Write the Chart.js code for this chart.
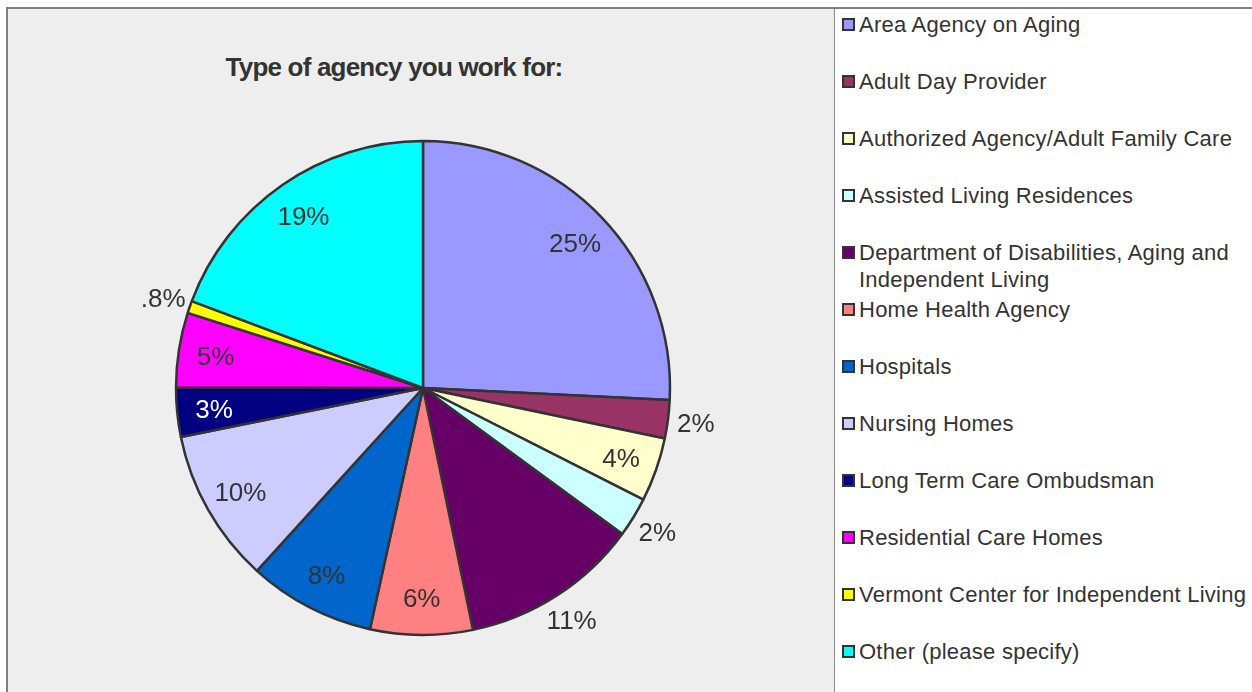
<!DOCTYPE html>
<html><head><meta charset="utf-8">
<script src="https://cdn.jsdelivr.net/npm/chart.js@4/dist/chart.umd.min.js"></script>
<style>
html,body{margin:0;padding:0;background:#fff;width:1252px;height:692px;overflow:hidden;font-family:"Liberation Sans",Arial,sans-serif;}
#frame{position:absolute;left:6px;top:7px;width:1246px;height:685px;border-top:2px solid #7f7f7f;border-left:2px solid #7f7f7f;box-sizing:border-box;}
#plot{position:absolute;left:8px;top:9px;width:826px;height:683px;background:#eeeeee;}
#sep{position:absolute;left:834px;top:9px;width:1px;height:683px;background:#8a8a8a;}
#title{position:absolute;left:0;top:53px;width:788px;text-align:center;font-weight:bold;font-size:26px;line-height:28px;letter-spacing:-0.8px;color:#333;}
#cv{position:absolute;left:8px;top:9px;}
.li{position:absolute;left:842px;font-size:22px;line-height:27px;letter-spacing:0.25px;color:#333;white-space:nowrap;}
.li .sw{position:absolute;left:0;top:7px;width:9px;height:9px;border:2px solid #333;}
.li .tx{position:absolute;left:17px;top:0;}
</style></head>
<body>
<div id="frame"></div>
<div id="plot"></div>
<div id="sep"></div>
<div id="title">Type of agency you work for:</div>
<canvas id="cv" width="826" height="683"></canvas>
<div id="legend"></div>
<script>
const categories = [
  "Area Agency on Aging",
  "Adult Day Provider",
  "Authorized Agency/Adult Family Care",
  "Assisted Living Residences",
  ["Department of Disabilities, Aging and", "Independent Living"],
  "Home Health Agency",
  "Hospitals",
  "Nursing Homes",
  "Long Term Care Ombudsman",
  "Residential Care Homes",
  "Vermont Center for Independent Living",
  "Other (please specify)"
];
const values = [25.8, 2.5, 4.2, 2.6, 11.7, 6.7, 8.3, 10.1, 3.2, 4.9, 0.8, 19.3];
const pctLabels = ["25%", "2%", "4%", "2%", "11%", "6%", "8%", "10%", "3%", "5%", ".8%", "19%"];
const colors = ["#9999FF", "#993366", "#FFFFCC", "#CCFFFF", "#660066", "#FF8080",
                "#0066CC", "#CCCCFF", "#000080", "#FF00FF", "#FFFF00", "#00FFFF"];

const outside = [false, true, false, true, true, false, false, false, false, false, true, false];
const labelColor = ["#333", "#333", "#333", "#333", "#333", "#333", "#333", "#333", "#fff", "#333", "#333", "#333"];

// legend
const lg = document.getElementById('legend');
categories.forEach((c, i) => {
  const d = document.createElement('div');
  d.className = 'li';
  d.style.top = (11 + 57 * i) + 'px';
  const sw = document.createElement('div');
  sw.className = 'sw';
  sw.style.background = colors[i];
  const tx = document.createElement('div');
  tx.className = 'tx';
  tx.innerHTML = Array.isArray(c) ? c.join('<br>') : c;
  d.appendChild(sw); d.appendChild(tx);
  lg.appendChild(d);
});

const sliceLabels = {
  id: 'sliceLabels',
  afterDatasetsDraw(chart) {
    const ctx = chart.ctx;
    const meta = chart.getDatasetMeta(0);
    ctx.save();
    ctx.font = '26px "Liberation Sans", Arial, sans-serif';
    ctx.textAlign = 'center';
    ctx.textBaseline = 'middle';
    meta.data.forEach((arc, i) => {
      const p = arc.getProps(['x', 'y', 'startAngle', 'endAngle', 'outerRadius'], true);
      const mid = (p.startAngle + p.endAngle) / 2;
      const r = outside[i] ? p.outerRadius + 28 : p.outerRadius * 0.85;
      ctx.fillStyle = labelColor[i];
      ctx.fillText(pctLabels[i], p.x + Math.cos(mid) * r, p.y + Math.sin(mid) * r + 2);
    });
    ctx.restore();
  }
};

new Chart(document.getElementById('cv'), {
  type: 'pie',
  data: {
    labels: categories.map(c => Array.isArray(c) ? c.join(' ') : c),
    datasets: [{
      data: values,
      backgroundColor: colors,
      borderColor: '#333333',
      borderWidth: 2.5,
      radius: 247
    }]
  },
  options: {
    responsive: false,
    animation: false,
    events: [],
    layout: { padding: { left: 167, right: 163, top: 131, bottom: 56 } },
    plugins: { legend: { display: false }, title: { display: false }, tooltip: { enabled: false } }
  },
  plugins: [sliceLabels]
});
</script>
</body></html>
